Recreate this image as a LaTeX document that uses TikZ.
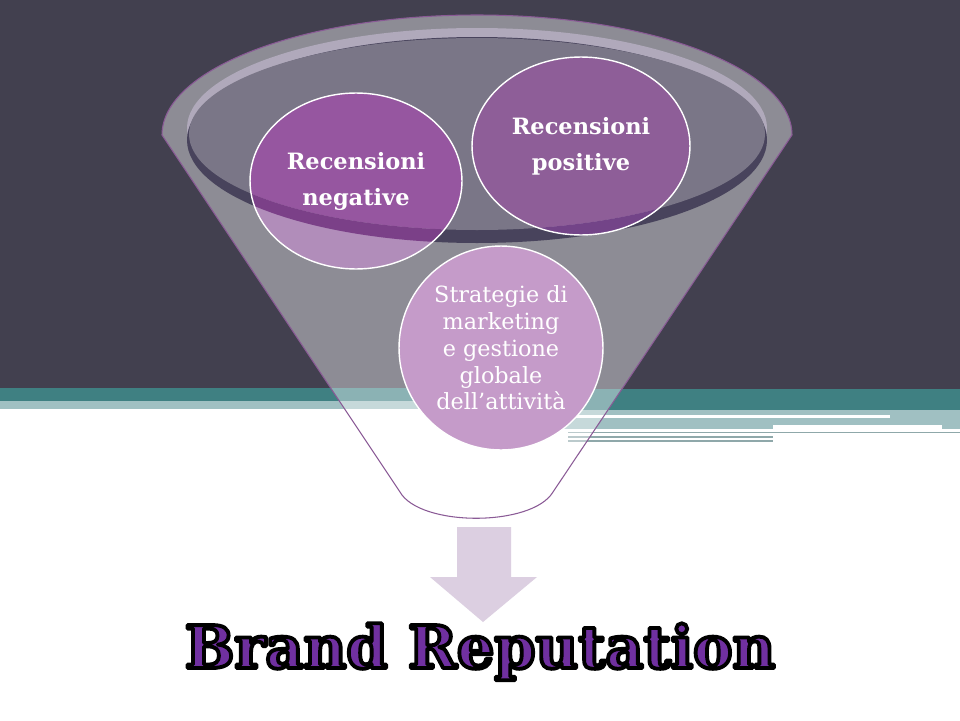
\documentclass[tikz,border=0pt]{standalone}
\usepackage{fontspec}
\usepackage{xcolor}
\usepackage{tikz}
\usetikzlibrary{positioning,shapes.geometric}
\newfontfamily\slabfont{DejaVu Serif}
\definecolor{slate}{HTML}{42404F}
\definecolor{bandteal}{HTML}{3F8082}
\definecolor{paleteal}{HTML}{A0C0C2}
\definecolor{lineteal}{HTML}{8FA8AA}
\definecolor{funnelline}{HTML}{8A5A96}
\definecolor{rimgrey}{HTML}{B0A9BB}
\definecolor{ellgrey}{HTML}{7A7687}
\definecolor{ellshadow}{HTML}{48435C}
\definecolor{negdeep}{HTML}{9656A0}
\definecolor{negpale}{HTML}{B18DBA}
\definecolor{negband}{HTML}{7B4088}
\definecolor{posdeep}{HTML}{8E5E98}
\definecolor{pospale}{HTML}{AA8DB6}
\definecolor{posband}{HTML}{734488}
\definecolor{lowfill}{HTML}{C59BC9}
\definecolor{arrowlilac}{HTML}{DCCFE1}
\definecolor{titlepurple}{HTML}{7030A0}
\newcommand{\outlined}[1]{\special{pdf:literal direct 2 Tr 2.2 w 1 j 0 0 0 RG}#1\special{pdf:literal direct 0 Tr}}

\begin{document}
\begin{tikzpicture}[x=0.02cm,y=-0.02cm,font=\slabfont]
    \tikzstyle{bubble}=[shape=ellipse, draw=white, line width=0.8pt, text=white, align=center, inner sep=0pt]
    \tikzstyle{boldtext}=[font=\slabfont\bfseries\fontsize{12.8}{20.5}\selectfont]
    \tikzstyle{titletext}=[anchor=base, inner sep=0pt, font=\slabfont\bfseries\fontsize{33.5}{40}\selectfont]
    \useasboundingbox (0,0) rectangle (960,720);
    % background and stripes
    \fill[white] (0,0) rectangle (960,720);
    \fill[slate] (0,0) rectangle (960,389);
    \fill[bandteal] (0,388) rectangle (480,401);
    \fill[paleteal] (0,401) rectangle (480,409);
    \fill[bandteal] (480,389) rectangle (960,410);
    \fill[paleteal] (480,410) rectangle (960,429);
    \fill[white] (480,415) rectangle (890,418);
    \fill[white] (773,425) rectangle (942,431);
    \draw[lineteal, line width=0.7pt] (568,432.5) -- (960,432.5) (568,437) -- (773,437) (568,441) -- (773,441);
    % funnel
    \coordinate (rimc) at (477,128);
    \coordinate (shadc) at (477,140);
    \coordinate (ellc) at (477,134);
    \filldraw[fill=white, fill opacity=0.4, draw=funnelline, line width=0.6pt]
        (162,135) -- (400,492) .. controls (420,527) and (532,527) .. (553,492) -- (792,135)
        arc[start angle=0, end angle=-180, x radius=315, y radius=120] -- cycle;
    \fill[rimgrey] (rimc) ellipse[x radius=290, y radius=100];
    \fill[ellshadow] (shadc) ellipse[x radius=290, y radius=103];
    \fill[ellgrey] (ellc) ellipse[x radius=288, y radius=96];
    % circles
    \node[bubble, boldtext, minimum width=4.24cm, minimum height=3.52cm, fill=negpale, path picture={
        \fill[negdeep] (ellc) ellipse[x radius=288, y radius=96];
        \fill[negband, even odd rule] (shadc) ellipse[x radius=290, y radius=103] (ellc) ellipse[x radius=288, y radius=96];
    }] (neg) at (356,181) {Recensioni\\negative};
    \node[bubble, boldtext, minimum width=4.36cm, minimum height=3.56cm, fill=pospale, path picture={
        \fill[posdeep] (ellc) ellipse[x radius=288, y radius=96];
        \fill[posband, even odd rule] (shadc) ellipse[x radius=290, y radius=103] (ellc) ellipse[x radius=288, y radius=96];
    }] (pos) at (581,146) {Recensioni\\positive};
    \node[bubble, shape=circle, minimum size=4.08cm, fill=lowfill, font=\slabfont\fontsize{12.7}{15.2}\selectfont] (strat) at (501,348)
        {Strategie di\\marketing\\e gestione\\globale\\dell’attività};
    % arrow and title
    \fill[arrowlilac] (457,527) -- (511,527) -- (511,577) -- (537,577) -- (483,622) -- (430,577) -- (457,577) -- cycle;
    \node[titletext, text=titlepurple] (title) at (480,668) {\outlined{Brand Reputation}};
\end{tikzpicture}
\end{document}
